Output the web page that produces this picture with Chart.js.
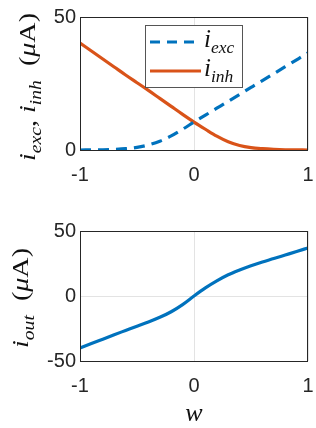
<!DOCTYPE html>
<html><head><meta charset="utf-8">
<script src="https://cdn.jsdelivr.net/npm/chart.js@4/dist/chart.umd.min.js"></script>
<style>
html,body{margin:0;padding:0;background:#fff;}
#c1wrap{position:absolute;left:0;top:0;width:316px;height:200px;}
#c2wrap{position:absolute;left:0;top:200px;width:316px;height:228px;}
</style></head>
<body>
<div id="c1wrap"><canvas id="c1" width="316" height="200"></canvas></div>
<div id="c2wrap"><canvas id="c2" width="316" height="228"></canvas></div>
<script>
// ---- data ----
const w      = [-1,-0.9,-0.8,-0.7,-0.6,-0.5,-0.4,-0.3,-0.2,-0.1,0,0.1,0.2,0.3,0.4,0.5,0.6,0.7,0.8,0.9,1];
const iExc   = [0,0.05,0.1,0.25,0.5,1.0,1.9,3.3,5.3,7.8,10.5,13.1,15.7,18.3,20.9,23.5,26.1,28.7,31.3,33.9,36.5];
const iInh   = [40.2,37.2,34.2,31.2,28.2,25.3,22.4,19.4,16.4,13.4,10.5,7.8,5.2,3.1,1.7,0.9,0.5,0.25,0.1,0.05,0];
const iOut   = [-40,-36.6,-33.2,-29.8,-26.5,-23.2,-20.0,-16.4,-12.1,-6.6,0,6.2,11.6,16.3,20.0,23.3,26.2,28.8,31.5,34.2,37];
const xTicks = [-1,0,1];
const yTicksTop = [0,50];
const yTicksBottom = [-50,0,50];

const BLUE='#0072BD', ORANGE='#D95319', AX='#262626', GRID='#e3e3e3';
const TICKFONT={family:'"Liberation Sans", Arial, sans-serif', size:20};
const MATH='"Liberation Serif", "Times New Roman", serif';

function pts(xs, ys){ return xs.map((x,i)=>({x:x,y:ys[i]})); }

function mathWidth(ctx, parts, size){
  let wsum=0;
  for(const p of parts){
    ctx.font = (p.it?'italic ':'') + (p.sub?size*0.7:size) + 'px ' + MATH;
    wsum += ctx.measureText(p.t).width;
  }
  return wsum;
}
function drawMath(ctx, parts, x, y, size){ // x = left, y = baseline
  let cx=x;
  for(const p of parts){
    ctx.font = (p.it?'italic ':'') + (p.sub?size*0.7:size) + 'px ' + MATH;
    ctx.fillText(p.t, cx, y + (p.sub? size*0.25:0));
    cx += ctx.measureText(p.t).width;
  }
}

const boxPlugin = {
  id:'box',
  afterDraw(chart){
    const a=chart.chartArea, ctx=chart.ctx;
    ctx.save();
    ctx.strokeStyle=AX; ctx.lineWidth=1;
    ctx.strokeRect(Math.round(a.left)+0.5, Math.round(a.top)+0.5, Math.round(a.right-a.left)-1, Math.round(a.bottom-a.top));
    ctx.fillStyle='#111'; ctx.textBaseline='alphabetic';
    const o=chart.options.plugins.box;
    if(o.ytitle){
      const T=o.ytitle, sz=T.size;
      const wd=mathWidth(ctx,T.parts,sz);
      const k=T.len/wd;
      ctx.save();
      ctx.translate(T.x, T.cy);
      ctx.rotate(-Math.PI/2);
      ctx.scale(k,1);
      drawMath(ctx,T.parts,-wd/2,0,sz);
      ctx.restore();
    }
    if(o.xtitle){
      const sz=o.xtitle.size;
      const wd=mathWidth(ctx,o.xtitle.parts,sz);
      drawMath(ctx,o.xtitle.parts,(a.left+a.right)/2-wd/2,o.xtitle.y,sz);
    }
    if(o.legend){
      const L=o.legend;
      ctx.fillStyle='#fff';
      ctx.fillRect(L.x,L.y,L.w,L.h);
      ctx.strokeStyle='#555'; ctx.lineWidth=1;
      ctx.strokeRect(L.x+0.5,L.y+0.5,L.w,L.h);
      L.items.forEach((it,k)=>{
        const yy=L.y+L.rowY[k];
        ctx.strokeStyle=it.color; ctx.lineWidth=3;
        ctx.setLineDash(it.dash||[]);
        ctx.beginPath(); ctx.moveTo(L.x+5,yy); ctx.lineTo(L.x+56,yy); ctx.stroke();
        ctx.setLineDash([]);
        ctx.fillStyle='#111';
        drawMath(ctx,it.parts,L.x+59,yy+5,25);
      });
    }
    ctx.restore();
  }
};

function scalesFor(yMin,yMax,yTicks,xH){
  return {
    x:{type:'linear',min:-1,max:1,
       afterBuildTicks(s){ s.ticks = xTicks.map(v=>({value:v})); },
       afterFit(s){ s.height=xH; s.paddingLeft=0; s.paddingRight=0; },
       grid:{color:GRID,drawTicks:false,lineWidth:1},
       border:{display:false},
       ticks:{font:TICKFONT,color:AX,padding:13,maxRotation:0,autoSkip:false}},
    y:{type:'linear',min:yMin,max:yMax,
       afterBuildTicks(s){ s.ticks = yTicks.map(v=>({value:v})); },
       afterFit(s){ s.width=80; s.paddingTop=0; s.paddingBottom=0; },
       grid:{color:GRID,drawTicks:false,lineWidth:1},
       border:{display:false},
       ticks:{font:TICKFONT,color:AX,padding:4}}
  };
}

const lineOpts = {pointRadius:0,cubicInterpolationMode:'monotone',fill:false,borderWidth:3.2};

new Chart(document.getElementById('c1'),{
  type:'line',
  data:{datasets:[
    Object.assign({data:pts(w,iExc),borderColor:BLUE,borderDash:[11,7]},lineOpts),
    Object.assign({data:pts(w,iInh),borderColor:ORANGE},lineOpts)
  ]},
  options:{responsive:false,animation:false,
    layout:{padding:{top:17,right:8,left:0,bottom:0}},
    plugins:{legend:{display:false},tooltip:{enabled:false},
      box:{
        ytitle:{x:35,cy:87,len:148,size:24,parts:[{t:'i',it:1},{t:'exc',it:1,sub:1},{t:', '},{t:'i',it:1},{t:'inh',it:1,sub:1},{t:'  ('},{t:'\u03bc',it:1},{t:'A)'}]},
        legend:{x:145,y:25,w:97,h:62,rowY:[17,46],items:[
          {color:BLUE,dash:[10,7],parts:[{t:'i',it:1},{t:'exc',it:1,sub:1}]},
          {color:ORANGE,parts:[{t:'i',it:1},{t:'inh',it:1,sub:1}]}
        ]}
      }},
    scales:scalesFor(0,50,yTicksTop,50)
  },
  plugins:[boxPlugin]
});

new Chart(document.getElementById('c2'),{
  type:'line',
  data:{datasets:[
    Object.assign({data:pts(w,iOut),borderColor:BLUE},lineOpts)
  ]},
  options:{responsive:false,animation:false,
    layout:{padding:{top:31,right:8,left:0,bottom:0}},
    plugins:{legend:{display:false},tooltip:{enabled:false},
      box:{
        ytitle:{x:28,cy:98,len:100,size:24,parts:[{t:'i',it:1},{t:'out',it:1,sub:1},{t:'  ('},{t:'\u03bc',it:1},{t:'A)'}]},
        xtitle:{y:221,size:26,parts:[{t:'w',it:1}]}
      }},
    scales:scalesFor(-50,50,yTicksBottom,67)
  },
  plugins:[boxPlugin]
});
</script>
</body></html>
